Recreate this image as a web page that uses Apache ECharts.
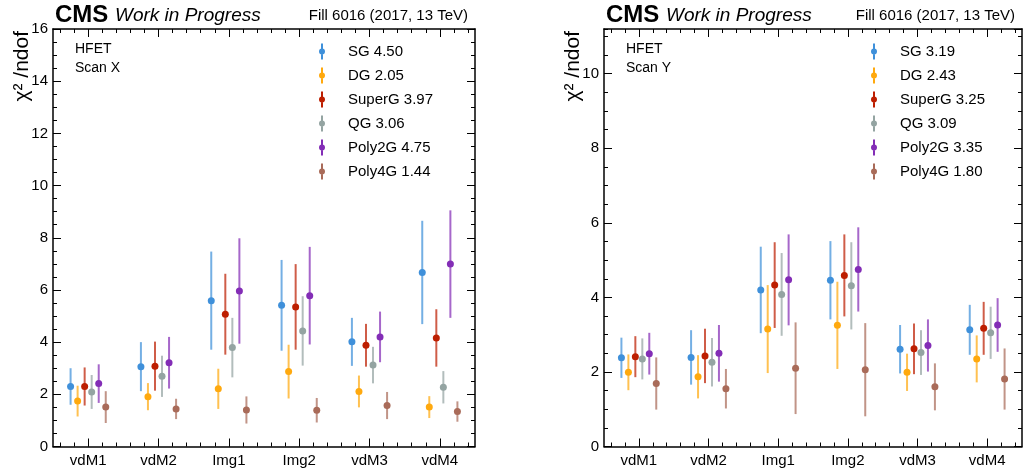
<!DOCTYPE html>
<html>
<head>
<meta charset="utf-8">
<script src="https://cdn.jsdelivr.net/npm/echarts@6/dist/echarts.min.js"></script>
<style>html,body{margin:0;padding:0;background:#fff}#c{width:1028px;height:470px}</style>
</head>
<body>
<div id="c"></div>
<script>
// ---------------- data ----------------
const categories = ['vdM1', 'vdM2', 'Img1', 'Img2', 'vdM3', 'vdM4'];
const models = ['SG', 'DG', 'SuperG', 'QG', 'Poly2G', 'Poly4G'];
const chi2ScanX = [4.50, 2.05, 3.97, 3.06, 4.75, 1.44];
const chi2ScanY = [3.19, 2.43, 3.25, 3.09, 3.35, 1.80];

// Scan X : chi2/ndof values and uncertainties per category
const scanX_SG      = [2.30, 3.06, 5.59, 5.41, 4.01, 6.67];
const scanX_SG_err  = [0.70, 0.94, 1.88, 1.74, 0.92, 1.98];
const scanX_DG      = [1.74, 1.91, 2.21, 2.87, 2.11, 1.51];
const scanX_DG_err  = [0.59, 0.52, 0.77, 1.03, 0.61, 0.42];
const scanX_SuperG     = [2.30, 3.08, 5.07, 5.35, 3.88, 4.16];
const scanX_SuperG_err = [0.73, 0.94, 1.55, 1.64, 0.82, 1.10];
const scanX_QG      = [2.09, 2.69, 3.79, 4.43, 3.12, 2.27];
const scanX_QG_err  = [0.65, 0.79, 1.14, 1.33, 0.70, 0.62];
const scanX_Poly2G     = [2.41, 3.21, 5.96, 5.78, 4.20, 6.99];
const scanX_Poly2G_err = [0.74, 0.99, 2.02, 1.87, 0.97, 2.06];
const scanX_Poly4G     = [1.51, 1.44, 1.40, 1.39, 1.57, 1.34];
const scanX_Poly4G_err = [0.61, 0.39, 0.52, 0.47, 0.52, 0.39];

// Scan Y
const scanY_SG      = [2.38, 2.39, 4.20, 4.46, 2.61, 3.13];
const scanY_SG_err  = [0.54, 0.73, 1.16, 1.05, 0.65, 0.67];
const scanY_DG      = [1.99, 1.87, 3.15, 3.25, 1.99, 2.35];
const scanY_DG_err  = [0.48, 0.58, 1.18, 1.17, 0.50, 0.63];
const scanY_SuperG     = [2.41, 2.43, 4.33, 4.59, 2.62, 3.17];
const scanY_SuperG_err = [0.55, 0.73, 1.15, 1.10, 0.68, 0.71];
const scanY_QG      = [2.35, 2.26, 4.08, 4.31, 2.52, 3.05];
const scanY_QG_err  = [0.55, 0.65, 1.11, 1.17, 0.60, 0.70];
const scanY_Poly2G     = [2.49, 2.50, 4.47, 4.75, 2.71, 3.26];
const scanY_Poly2G_err = [0.56, 0.76, 1.22, 1.13, 0.70, 0.72];
const scanY_Poly4G     = [1.69, 1.55, 2.10, 2.06, 1.60, 1.81];
const scanY_Poly4G_err = [0.70, 0.53, 1.23, 1.25, 0.63, 0.82];

// ---------------- style / layout ----------------
const FONT = '"Liberation Sans", Arial, Helvetica, sans-serif';
const colors = ['#3f90da', '#ffa90e', '#bd1f01', '#94a4a2', '#832db6', '#a96b59'];
const minorCats = categories.flatMap(c => [c + '_a', c + '_b', c + '_c', c + '_d', c + '_e']);
const ICON = 'path://M4,0L6,0L6,16L4,16Z M5,5A3,3 0 1 1 5,11A3,3 0 1 1 5,5Z';

const panels = [
  { scan: 'X', left: 53, width: 422, ymax: 16, chi2: chi2ScanX, legendLeft: 319,
    vals: [scanX_SG, scanX_DG, scanX_SuperG, scanX_QG, scanX_Poly2G, scanX_Poly4G],
    errs: [scanX_SG_err, scanX_DG_err, scanX_SuperG_err, scanX_QG_err, scanX_Poly2G_err, scanX_Poly4G_err] },
  { scan: 'Y', left: 604, width: 418, ymax: 11.2, chi2: chi2ScanY, legendLeft: 871,
    vals: [scanY_SG, scanY_DG, scanY_SuperG, scanY_QG, scanY_Poly2G, scanY_Poly4G],
    errs: [scanY_SG_err, scanY_DG_err, scanY_SuperG_err, scanY_QG_err, scanY_Poly2G_err, scanY_Poly4G_err] }
];

const TOP = 29, HEIGHT = 417.5;
const frame = { show: true, onZero: false, lineStyle: { color: '#000', width: 1.5 } };
const noLine = { show: false, onZero: false };

function renderErr(params, api) {
  const x = api.value(0), v = api.value(1), lo = api.value(2), hi = api.value(3);
  const p = api.coord([x, v]), pl = api.coord([x, lo]), ph = api.coord([x, hi]);
  const c = api.visual('color');
  return { type: 'group', children: [
    { type: 'line', shape: { x1: p[0], y1: pl[1], x2: p[0], y2: ph[1] },
      style: { stroke: c, lineWidth: 2, opacity: 0.72 } },
    { type: 'circle', shape: { cx: p[0], cy: p[1], r: 3.5 }, style: { fill: c } }
  ]};
}

const grid = [], xAxis = [], yAxis = [], series = [], legend = [], graphic = [];

panels.forEach((P, g) => {
  grid.push({ left: P.left, width: P.width, top: TOP, height: HEIGHT, outerBoundsMode: 'none' });
  const xi = xAxis.length, yi = yAxis.length;
  // data axis (hidden)
  xAxis.push({ type: 'value', gridIndex: g, min: -0.5, max: 5.5, show: false });
  ['bottom', 'top'].forEach(pos => {
    xAxis.push({ type: 'category', gridIndex: g, data: categories, position: pos, boundaryGap: true,
      axisLine: frame,
      axisTick: { show: true, inside: true, length: 8, alignWithLabel: true, interval: 0, lineStyle: { color: '#000', width: 1 } },
      axisLabel: { show: pos === 'bottom', interval: 0, margin: 7, color: '#000', fontSize: 15, fontFamily: FONT },
      splitLine: { show: false } });
    xAxis.push({ type: 'category', gridIndex: g, data: minorCats, position: pos, boundaryGap: true,
      axisLine: noLine,
      axisTick: { show: true, inside: true, length: 4, alignWithLabel: true, interval: 0, lineStyle: { color: '#000', width: 1 } },
      axisLabel: { show: false, interval: 0 }, splitLine: { show: false } });
  });
  ['left', 'right'].forEach(pos => {
    yAxis.push({ type: 'value', gridIndex: g, min: 0, max: P.ymax, interval: 2, position: pos,
      axisLine: frame,
      axisTick: { show: true, inside: true, length: 8, lineStyle: { color: '#000', width: 1 } },
      axisLabel: { show: pos === 'left', color: '#000', fontSize: 15, fontFamily: FONT, margin: 5,
                   showMaxLabel: P.ymax % 2 === 0, showMinLabel: true },
      splitLine: { show: false } });
    yAxis.push({ type: 'value', gridIndex: g, min: 0, max: P.ymax, interval: 0.5, position: pos,
      axisLine: noLine,
      axisTick: { show: true, inside: true, length: 4, lineStyle: { color: '#000', width: 1 } },
      axisLabel: { show: false }, splitLine: { show: false } });
  });

  const names = [];
  models.forEach((m, k) => {
    const name = m + ' ' + P.chi2[k].toFixed(2);
    names.push({ name, icon: ICON });
    const off = (k - (models.length - 1) / 2) * 0.1;
    const data = P.vals[k].map((v, i) => [i + off, v, v - P.errs[k][i], v + P.errs[k][i]]);
    series.push({ type: 'custom', name, xAxisIndex: xi, yAxisIndex: yi, data,
      encode: { x: 0, y: [1, 2, 3] }, itemStyle: { color: colors[k] },
      renderItem: renderErr, z: 5 });
  });
  legend.push({ data: names, orient: 'vertical', left: P.legendLeft, top: 43.5, padding: 0,
    itemWidth: 42, itemHeight: 16, itemGap: 8, selectedMode: false,
    textStyle: { fontSize: 15, color: '#000', fontFamily: FONT, lineHeight: 16 } });

  // header texts
  graphic.push({ type: 'text', x: P.left + 2, y: 15, style: { text: 'CMS', fill: '#000',
    font: 'bold 24px ' + FONT, align: 'left', verticalAlign: 'middle' } });
  graphic.push({ type: 'text', x: P.left + 62, y: 15.5, style: { text: 'Work in Progress', fill: '#000',
    font: 'italic 19px ' + FONT, align: 'left', verticalAlign: 'middle' } });
  graphic.push({ type: 'text', x: P.left + P.width - 7, y: 16, style: { text: 'Fill 6016 (2017, 13 TeV)', fill: '#000',
    font: '15px ' + FONT, align: 'right', verticalAlign: 'middle' } });
  graphic.push({ type: 'text', x: P.left + 22, y: 40, style: { text: 'HFET\nScan ' + P.scan, fill: '#000',
    font: '14px ' + FONT, lineHeight: 18.5, align: 'left', verticalAlign: 'top' } });
  graphic.push({ type: 'text', x: P.left - 31, y: TOP + 2, rotation: Math.PI / 2, style: { text: 'χ² /ndof', fill: '#000',
    font: '21px ' + FONT, align: 'right', verticalAlign: 'middle' } });
});

const chart = echarts.init(document.getElementById('c'), null, { renderer: 'canvas' });
chart.setOption({ animation: false, backgroundColor: '#fff', grid, xAxis, yAxis, series, legend, graphic });
</script>
</body>
</html>
